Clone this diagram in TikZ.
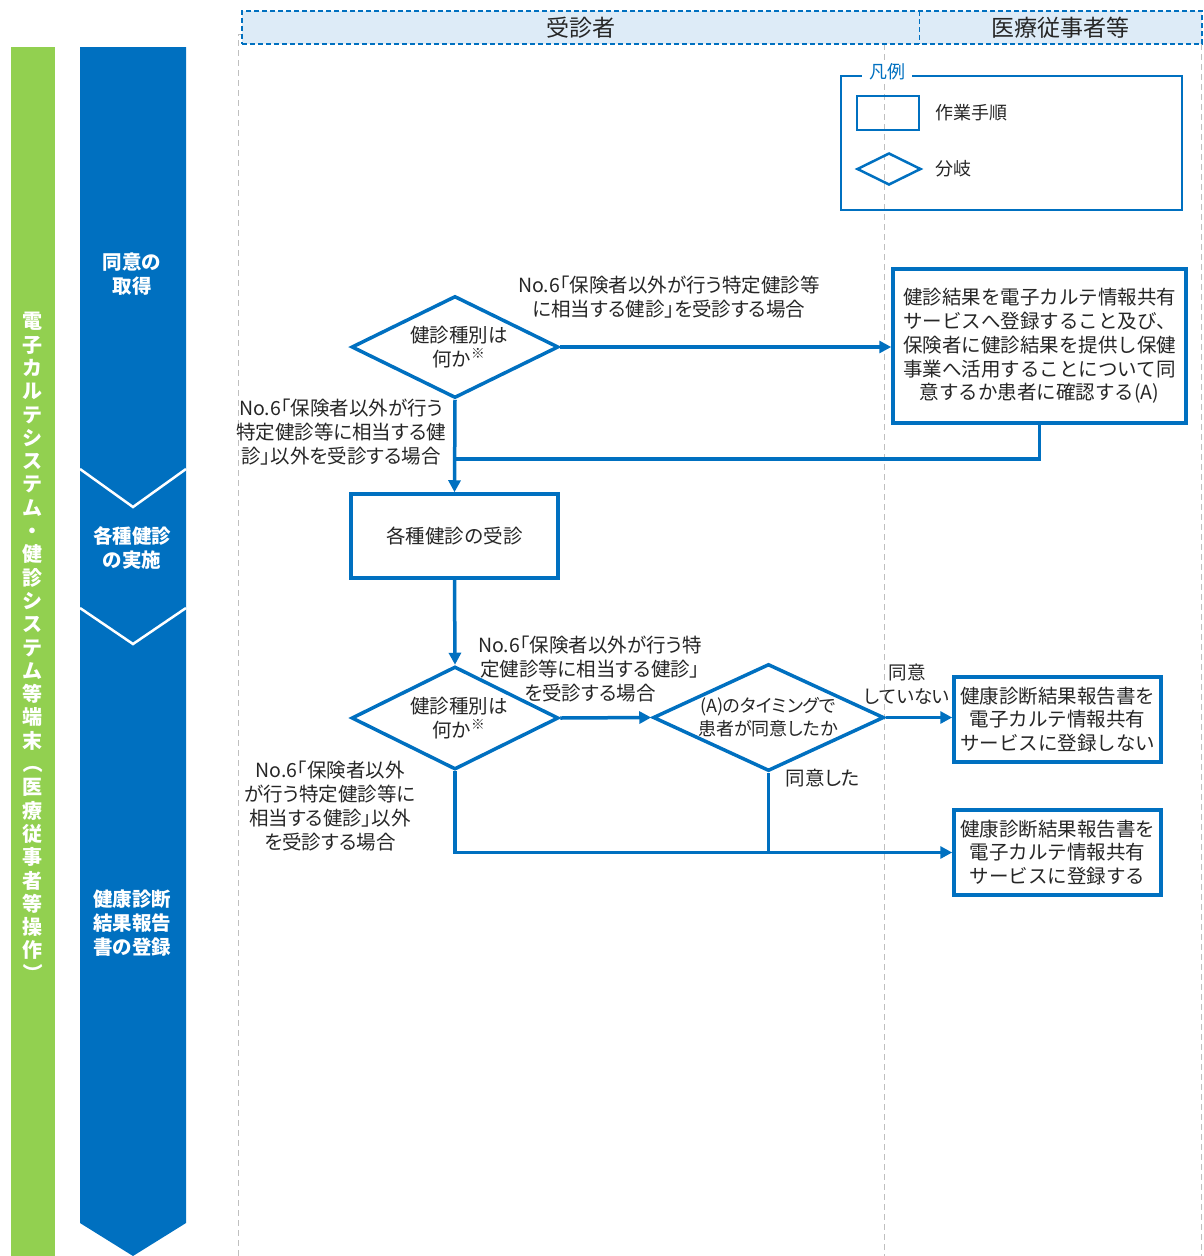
\documentclass[tikz,border=0pt]{standalone}
\usepackage{fontspec}
\setmainfont{Noto Sans CJK JP}
\newfontfamily\pfont{Noto Sans CJK JP}[RawFeature=+palt]
\usetikzlibrary{arrows.meta,shapes.geometric}
\definecolor{mblue}{HTML}{0070C0}
\definecolor{mgreen}{HTML}{92D050}
\definecolor{hdrfill}{HTML}{DDEBF7}
\definecolor{tgrey}{HTML}{262626}
\definecolor{lgrey}{HTML}{BFBFBF}
\newcommand{\fsz}{\fontsize{19.5pt}{23.8pt}\selectfont}
\newcommand{\psz}{\pfont\fontsize{19.5pt}{23.8pt}\selectfont}
\newcommand{\vp}[1]{\rotatebox[origin=c]{-90}{#1}}
\begin{document}
\begin{tikzpicture}[x=1pt,y=-1pt,
  every node/.style={text=tgrey},
  stepbox/.style={draw=mblue, line width=3.5pt, fill=white, inner sep=0pt, align=center, font=\fsz},
  dia/.style={draw=mblue, line width=3.5pt, fill=white, shape=diamond, inner sep=0pt, aspect=2},
  lbl/.style={align=center, font=\psz, inner sep=0pt},
  flow/.style={draw=mblue, line width=3.5pt},
  arr/.style={flow, -{Triangle[length=12pt,width=12pt]}},
  lane/.style={draw=lgrey, line width=1pt, dash pattern=on 6pt off 4pt},
  bartext/.style={text=white, font=\fontsize{19.5pt}{24pt}\selectfont\bfseries, align=center, inner sep=0pt}
]
\useasboundingbox (0,0) rectangle (1203,1256);

% lanes
\draw[lane] (242,34) -- (238,34) -- (238,1256);
\draw[lane] (884,44) -- (884,1256);
\draw[lane] (1201,44) -- (1201,1256);

% header
\node[draw=mblue, dash pattern=on 5pt off 3pt, line width=1.8pt, fill=hdrfill, minimum width=960pt, minimum height=33pt, inner sep=0pt] (hdr) at (722,27.5) {};
\draw[mblue, dash pattern=on 5pt off 3pt, line width=1pt] (919,11) -- (919,44);
\node[font=\fontsize{23pt}{26pt}\selectfont] (h1) at (581,28) {受診者};
\node[font=\fontsize{23pt}{26pt}\selectfont] (h2) at (1060,28) {医療従事者等};

% green bar
\fill[mgreen] (11,47) rectangle (55,1256);
\node[text=white, font=\fontsize{20pt}{23.3pt}\selectfont\bfseries, align=center, inner sep=0pt] (gtxt) at (33,648)
 {電\\子\\カ\\ル\\テ\\シ\\ス\\テ\\ム\\・\\健\\診\\シ\\ス\\テ\\ム\\等\\端\\末\\\vp{（}\\医\\療\\従\\事\\者\\等\\操\\作\\\vp{）}};

% blue bar
\fill[mblue] (80,47) -- (186,47) -- (186,1223) -- (133,1256) -- (80,1223) -- cycle;
\draw[white, line width=2.5pt] (80,469) -- (133,507) -- (186,469);
\draw[white, line width=2.5pt] (80,608) -- (133,644) -- (186,608);
\node[bartext] (p1) at (132,274) {同意の\\取得};
\node[bartext] (p2) at (132,548) {各種健診\\の実施};
\node[bartext] (p3) at (132,923) {健康診断\\結果報告\\書の登録};

% legend
\node[draw=mblue, line width=2.5pt, minimum width=341pt, minimum height=134pt, inner sep=0pt] (leg) at (1011.5,143) {};
\node[fill=white, text=mblue, font=\fontsize{18pt}{20pt}\selectfont, inner xsep=7pt, inner ysep=0pt] (legt) at (887,72) {凡例};
\node[draw=mblue, line width=2.5pt, minimum width=62pt, minimum height=34pt, inner sep=0pt] (legbox) at (888,113) {};
\node[draw=mblue, line width=2.5pt, shape=diamond, aspect=2, minimum width=64pt, minimum height=32pt, inner sep=0pt] (legdia) at (889,169) {};
\node[anchor=west, font=\fontsize{18pt}{20pt}\selectfont] (legt1) at (932,113) {作業手順};
\node[anchor=west, font=\fontsize{18pt}{20pt}\selectfont] (legt2) at (932,169) {分岐};

% flow nodes
\node[dia, minimum width=207pt, minimum height=102pt] (d1) at (455,347) {};
\node[lbl] (d1t) at (459,347) {健診種別は\\何か\textsuperscript{※}};
\node[stepbox, minimum width=293pt, minimum height=154pt] (bA) at (1039.5,346)
 {健診結果を電子カルテ情報共有\\サービスへ登録すること及び、\\保険者に健診結果を提供し保健\\事業へ活用することについて同\\意するか患者に確認する(A)};
\node[stepbox, minimum width=207pt, minimum height=84pt] (bB) at (454.5,536) {各種健診の受診};
\node[dia, minimum width=207pt, minimum height=103pt] (d2) at (455,718) {};
\node[lbl] (d2t) at (459,718) {健診種別は\\何か\textsuperscript{※}};
\node[dia, minimum width=231pt, minimum height=107pt] (d3) at (768.5,717.5) {};
\node[lbl, font=\pfont\fontsize{18pt}{23.5pt}\selectfont] (d3t) at (768,717) {(A)のタイミングで\\患者が同意したか};
\node[stepbox, minimum width=207pt, minimum height=85pt] (bC) at (1057.5,719.5) {健康診断結果報告書を\\電子カルテ情報共有\\サービスに登録しない};
\node[stepbox, minimum width=207pt, minimum height=85pt] (bE) at (1057.5,852.5) {健康診断結果報告書を\\電子カルテ情報共有\\サービスに登録する};

% connectors
\coordinate (j1) at (455,459);
\coordinate (j2) at (768.5,852.5);
\draw[arr] (d1.east) -- (d1.east -| bA.west);
\draw[arr] (d1.south) -- (bB.north);
\draw[flow] (bA.south) |- (j1);
\draw[arr] (bB.south) -- (d2.north);
\draw[arr] (d2.east) -- (d3.west);
\draw[arr] (d3.east) -- (d3.east -| bC.west);
\draw[arr] (d2.south) |- (bE.west);
\draw[flow] (d3.south) -- (j2);

% labels
\node[lbl] (l1) at (669,297) {No.6「保険者以外が行う特定健診等\\に相当する健診」を受診する場合};
\node[lbl] (l2) at (341,432) {No.6「保険者以外が行う\\特定健診等に相当する健\\診」以外を受診する場合};
\node[lbl] (l3) at (590,669) {No.6「保険者以外が行う特\\定健診等に相当する健診」\\を受診する場合};
\node[lbl, font=\pfont\fontsize{18.5pt}{23.8pt}\selectfont] (l4) at (907,684) {同意\\していない};
\node[lbl] (l5) at (823,778) {同意した};
\node[lbl] (l6) at (330,806) {No.6「保険者以外\\が行う特定健診等に\\相当する健診」以外\\を受診する場合};
\end{tikzpicture}
\end{document}
